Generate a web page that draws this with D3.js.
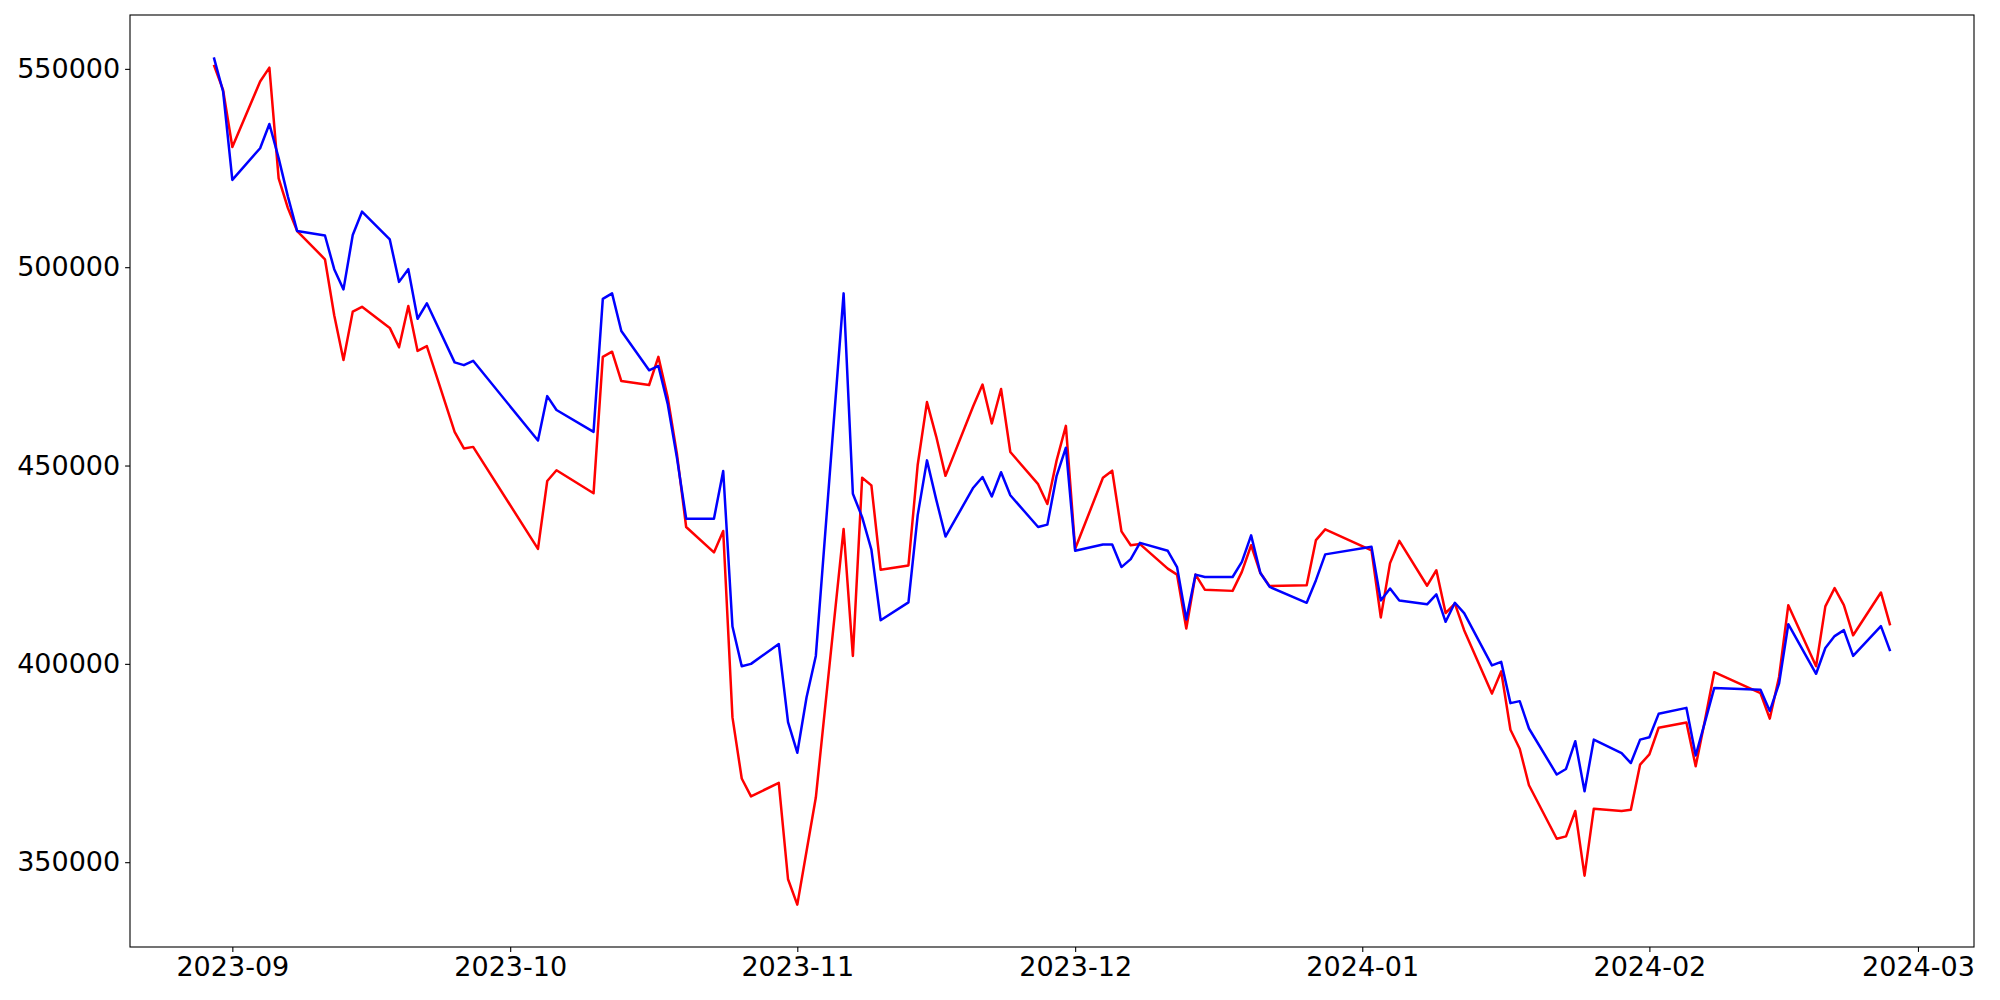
<!DOCTYPE html>
<html><head><meta charset="utf-8">
<script src="https://cdn.jsdelivr.net/npm/d3@7"></script>
<style>
body{margin:0;background:#fff}
svg text{font-family:"DejaVu Sans",sans-serif}
</style>
</head><body>
<svg id="chart" width="2000" height="1000"></svg>
<script>
const dates = [
"2023-08-30","2023-08-31","2023-09-01","2023-09-04","2023-09-05","2023-09-06","2023-09-07","2023-09-08","2023-09-11","2023-09-12","2023-09-13","2023-09-14","2023-09-15","2023-09-18","2023-09-19","2023-09-20","2023-09-21","2023-09-22","2023-09-25","2023-09-26","2023-09-27",
"2023-10-04","2023-10-05","2023-10-06","2023-10-10","2023-10-11","2023-10-12","2023-10-13","2023-10-16","2023-10-17","2023-10-18","2023-10-19","2023-10-20","2023-10-23","2023-10-24","2023-10-25","2023-10-26","2023-10-27","2023-10-30","2023-10-31",
"2023-11-01","2023-11-02","2023-11-03","2023-11-06","2023-11-07","2023-11-08","2023-11-09","2023-11-10","2023-11-13","2023-11-14","2023-11-15","2023-11-16","2023-11-17","2023-11-20","2023-11-21","2023-11-22","2023-11-23","2023-11-24","2023-11-27","2023-11-28","2023-11-29","2023-11-30",
"2023-12-01","2023-12-04","2023-12-05","2023-12-06","2023-12-07","2023-12-08","2023-12-11","2023-12-12","2023-12-13","2023-12-14","2023-12-15","2023-12-18","2023-12-19","2023-12-20","2023-12-21","2023-12-22","2023-12-26","2023-12-27","2023-12-28",
"2024-01-02","2024-01-03","2024-01-04","2024-01-05","2024-01-08","2024-01-09","2024-01-10","2024-01-11","2024-01-12","2024-01-15","2024-01-16","2024-01-17","2024-01-18","2024-01-19","2024-01-22","2024-01-23","2024-01-24","2024-01-25","2024-01-26","2024-01-29","2024-01-30","2024-01-31",
"2024-02-01","2024-02-02","2024-02-05","2024-02-06","2024-02-07","2024-02-08","2024-02-13","2024-02-14","2024-02-15","2024-02-16","2024-02-19","2024-02-20","2024-02-21","2024-02-22","2024-02-23","2024-02-26","2024-02-27"
];

const redValues = [
551000,544700,
530300,546800,550300,522400,514900,509100,502000,487900,476600,488800,490000,484700,479800,490200,478900,480100,458500,454300,454700,
429000,446100,448800,443000,477400,478700,471300,470300,477400,467300,453000,434500,428100,433500,386500,371100,366600,370000,345700,
339300,352800,366300,434000,402000,446900,445000,423700,424800,450200,466000,457300,447400,465000,470400,460600,469300,453400,445300,440300,451300,460000,
429000,446900,448700,433400,429900,430200,424000,422500,408900,422500,418700,418400,423200,429900,422900,419600,419800,431200,433900,
428600,411700,425400,431000,419700,423600,412800,415200,408500,392500,398100,383400,378600,369400,355900,356500,362900,346600,363500,362900,363200,374600,
377200,383900,385200,374200,385800,397900,392600,386200,396700,414800,399400,414500,419100,414800,407200,418000,409700
];

const blueValues = [
552900,544300,
522000,530000,536100,527500,517800,509100,508000,499500,494400,508100,514000,507000,496300,499500,487000,490900,476000,475300,476400,
456300,467500,464000,458500,492000,493400,483900,474000,475100,465600,452000,436600,436600,448600,409400,399400,400000,405000,385300,
377600,391600,402000,493400,442900,437000,428800,411000,415500,437500,451300,441400,432100,444400,447100,442200,448300,442500,434500,435100,447400,454500,
428500,430100,430100,424400,426400,430500,428500,424400,411200,422500,421900,421900,425700,432400,422900,419400,415400,421100,427600,
429500,416000,419000,416000,415000,417500,410600,415400,412800,399600,400500,390100,390600,383700,372100,373500,380500,367900,380900,377500,375000,380900,
381500,387400,388900,376900,385300,393900,393500,388100,395000,410000,397500,404000,407000,408500,402000,409500,403200
];

const yTickValues = [350000, 400000, 450000, 500000, 550000];
const xTickLabels = ["2023-09","2023-10","2023-11","2023-12","2024-01","2024-02","2024-03"];

(function () {
  const W = 2000, H = 1000;
  const pL = 130, pR = 1974, pT = 15, pB = 947;
  const parseDay = d3.utcParse("%Y-%m-%d");
  const parseMonth = d3.utcParse("%Y-%m");
  const xs = dates.map(parseDay);

  const t0 = +xs[0], t1 = +xs[xs.length - 1], span = t1 - t0;
  const x = d3.scaleUtc()
    .domain([new Date(t0 - 0.05 * span), new Date(t1 + 0.05 * span)])
    .range([pL, pR]);

  const all = redValues.concat(blueValues);
  const vmin = d3.min(all), vmax = d3.max(all), vr = vmax - vmin;
  const y = d3.scaleLinear()
    .domain([vmin - 0.05 * vr, vmax + 0.05 * vr])
    .range([pB, pT]);

  const svg = d3.select("#chart");
  svg.append("rect").attr("x", 0).attr("y", 0).attr("width", W).attr("height", H).attr("fill", "#fff");

  const line = d3.line().x((d, i) => x(xs[i])).y(d => y(d));

  const plot = svg.append("g");
  plot.append("path").datum(redValues)
    .attr("d", line).attr("fill", "none").attr("stroke", "#ff0000")
    .attr("stroke-width", 2.5).attr("stroke-linejoin", "round").attr("stroke-linecap", "butt");
  plot.append("path").datum(blueValues)
    .attr("d", line).attr("fill", "none").attr("stroke", "#0000ff")
    .attr("stroke-width", 2.5).attr("stroke-linejoin", "round").attr("stroke-linecap", "butt");

  const fs = 27;
  const xAxis = d3.axisBottom(x)
    .tickValues(xTickLabels.map(parseMonth))
    .tickFormat(d3.utcFormat("%Y-%m"))
    .tickSize(4.9).tickPadding(4.9);
  const gx = svg.append("g").attr("transform", `translate(0,${pB})`).call(xAxis);
  gx.select(".domain").remove();
  gx.selectAll(".tick line").attr("stroke", "#000").attr("stroke-width", 1.1);
  gx.selectAll(".tick text").attr("font-size", fs).attr("fill", "#000")
    .attr("font-family", "DejaVu Sans, sans-serif");

  const yAxis = d3.axisLeft(y)
    .tickValues(yTickValues)
    .tickFormat(d3.format("d"))
    .tickSize(4.9).tickPadding(4.9);
  const gy = svg.append("g").attr("transform", `translate(${pL},0)`).call(yAxis);
  gy.select(".domain").remove();
  gy.selectAll(".tick line").attr("stroke", "#000").attr("stroke-width", 1.1);
  gy.selectAll(".tick text").attr("font-size", fs).attr("fill", "#000")
    .attr("font-family", "DejaVu Sans, sans-serif");

  svg.append("rect")
    .attr("x", pL).attr("y", pT).attr("width", pR - pL).attr("height", pB - pT)
    .attr("fill", "none").attr("stroke", "#000").attr("stroke-width", 1.1);
})();
</script>
</body></html>
